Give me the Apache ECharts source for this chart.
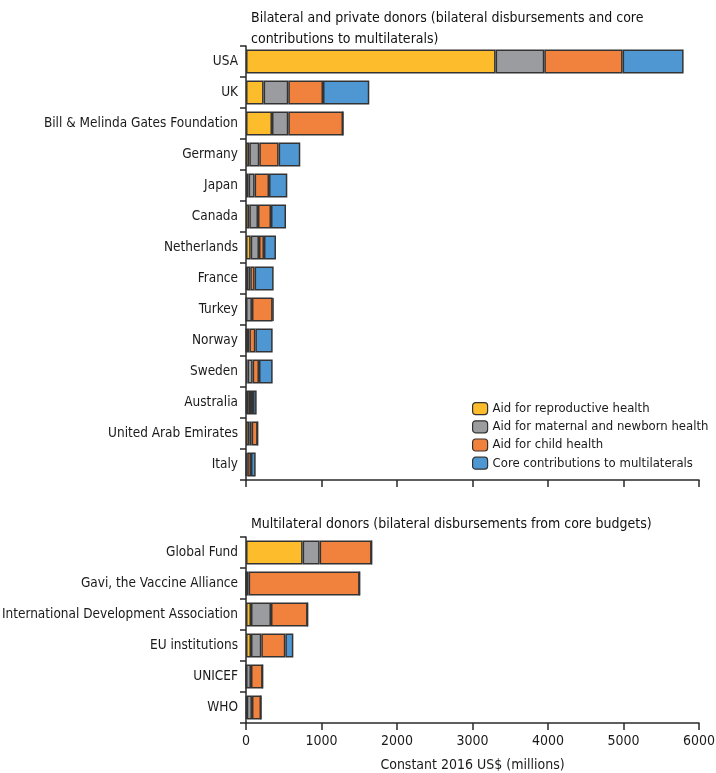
<!DOCTYPE html>
<html>
<head>
<meta charset="utf-8">
<script src="https://cdn.jsdelivr.net/npm/echarts@6/dist/echarts.min.js"></script>
<style>
  html, body { margin: 0; padding: 0; background: #fff; }
  #chart { width: 716px; height: 773px; }
</style>
</head>
<body>
<div id="chart"></div>
<script>
// bilateral and private donors (top panel)
const donors = ['USA', 'UK', 'Bill & Melinda Gates Foundation', 'Germany', 'Japan', 'Canada',
  'Netherlands', 'France', 'Turkey', 'Norway', 'Sweden', 'Australia', 'United Arab Emirates', 'Italy'];
const donorRepro = [3306, 233, 344, 44, 35, 44, 62, 10, 0, 5, 21, 10, 44, 5];
const donorMnh   = [645, 327, 216, 132, 79, 115, 110, 47, 79, 40, 67, 43, 31, 12];
const donorChild = [1037, 460, 725, 256, 191, 172, 66, 57, 274, 79, 84, 40, 79, 49];
const donorCore  = [808, 613, 0, 287, 242, 199, 159, 252, 10, 229, 181, 48, 0, 62];

// multilateral donors (bottom panel)
const multis = ['Global Fund', 'Gavi, the Vaccine Alliance', 'International Development Association',
  'EU institutions', 'UNICEF', 'WHO'];
const multiRepro = [750, 0, 66, 66, 0, 10];
const multiMnh   = [225, 35, 265, 137, 66, 69];
const multiChild = [689, 1470, 485, 318, 154, 120];
const multiCore  = [0, 0, 0, 106, 0, 0];

const seriesNames = ['Aid for reproductive health', 'Aid for maternal and newborn health',
  'Aid for child health', 'Core contributions to multilaterals'];
const colors = ['#fdbc2b', '#9a9c9f', '#f1823e', '#4f97d2'];
const xTicks = [0, 1000, 2000, 3000, 4000, 5000, 6000];

const font = "'Liberation Sans Narrow', 'DejaVu Sans Condensed', 'Liberation Sans', sans-serif";
const ink = '#2a2a2a';

function makeSeries(values, gridIdx) {
  return values.map((v, i) => ({
    name: seriesNames[i],
    type: 'bar',
    stack: 'g' + gridIdx,
    xAxisIndex: gridIdx,
    yAxisIndex: gridIdx,
    barWidth: 24,
    itemStyle: { color: colors[i], borderColor: '#333', borderWidth: 1.5 },
    data: v
  }));
}

const xAxisBase = {
  type: 'value',
  min: xTicks[0],
  max: xTicks[xTicks.length - 1],
  interval: 1000,
  splitLine: { show: false },
  axisLine: { show: true, lineStyle: { color: ink, width: 1.5 } },
  axisTick: { show: true, length: 7, lineStyle: { color: ink, width: 1.5 } }
};
const yAxisBase = {
  type: 'category',
  inverse: true,
  axisLine: { show: true, lineStyle: { color: ink, width: 1.5 } },
  axisTick: { show: true, length: 6, alignWithLabel: false, lineStyle: { color: ink, width: 1.5 } },
  axisLabel: { color: '#1a1a1a', fontSize: 13.5, fontFamily: font, margin: 8 }
};

const chart = echarts.init(document.getElementById('chart'), null, { renderer: 'canvas' });
chart.setOption({
  animation: false,
  backgroundColor: '#fff',
  title: [
    {
      text: 'Bilateral and private donors (bilateral disbursements and core\ncontributions to multilaterals)',
      left: 246, top: 3,
      textStyle: { fontSize: 14, fontWeight: 500, color: '#111', fontFamily: font, lineHeight: 21 }
    },
    {
      text: 'Multilateral donors (bilateral disbursements from core budgets)',
      left: 246, top: 512,
      textStyle: { fontSize: 14, fontWeight: 500, color: '#111', fontFamily: font }
    }
  ],
  legend: {
    orient: 'vertical',
    left: 467, top: 397,
    itemWidth: 15, itemHeight: 12, itemGap: 5,
    textStyle: { fontSize: 13, color: '#1a1a1a', fontFamily: font },
    data: seriesNames.map((n, i) => ({ name: n, itemStyle: { color: colors[i], borderColor: '#333', borderWidth: 1.2 } }))
  },
  grid: [
    { left: 246, right: 17, top: 46, height: 434, containLabel: false, outerBoundsMode: 'none' },
    { left: 246, right: 17, top: 537, height: 186, containLabel: false, outerBoundsMode: 'none' }
  ],
  xAxis: [
    Object.assign({}, xAxisBase, { gridIndex: 0, axisLabel: { show: false } }),
    Object.assign({}, xAxisBase, {
      gridIndex: 1,
      name: 'Constant 2016 US$ (millions)',
      nameLocation: 'middle', nameGap: 35,
      nameTextStyle: { fontSize: 14, color: '#1a1a1a', fontFamily: font },
      axisLabel: { show: true, fontSize: 14, color: '#1a1a1a', fontFamily: font, margin: 11,
        formatter: v => String(v) }
    })
  ],
  yAxis: [
    Object.assign({}, yAxisBase, { gridIndex: 0, data: donors }),
    Object.assign({}, yAxisBase, { gridIndex: 1, data: multis })
  ],
  series: [
    ...makeSeries([donorRepro, donorMnh, donorChild, donorCore], 0),
    ...makeSeries([multiRepro, multiMnh, multiChild, multiCore], 1)
  ]
});
</script>
</body>
</html>
